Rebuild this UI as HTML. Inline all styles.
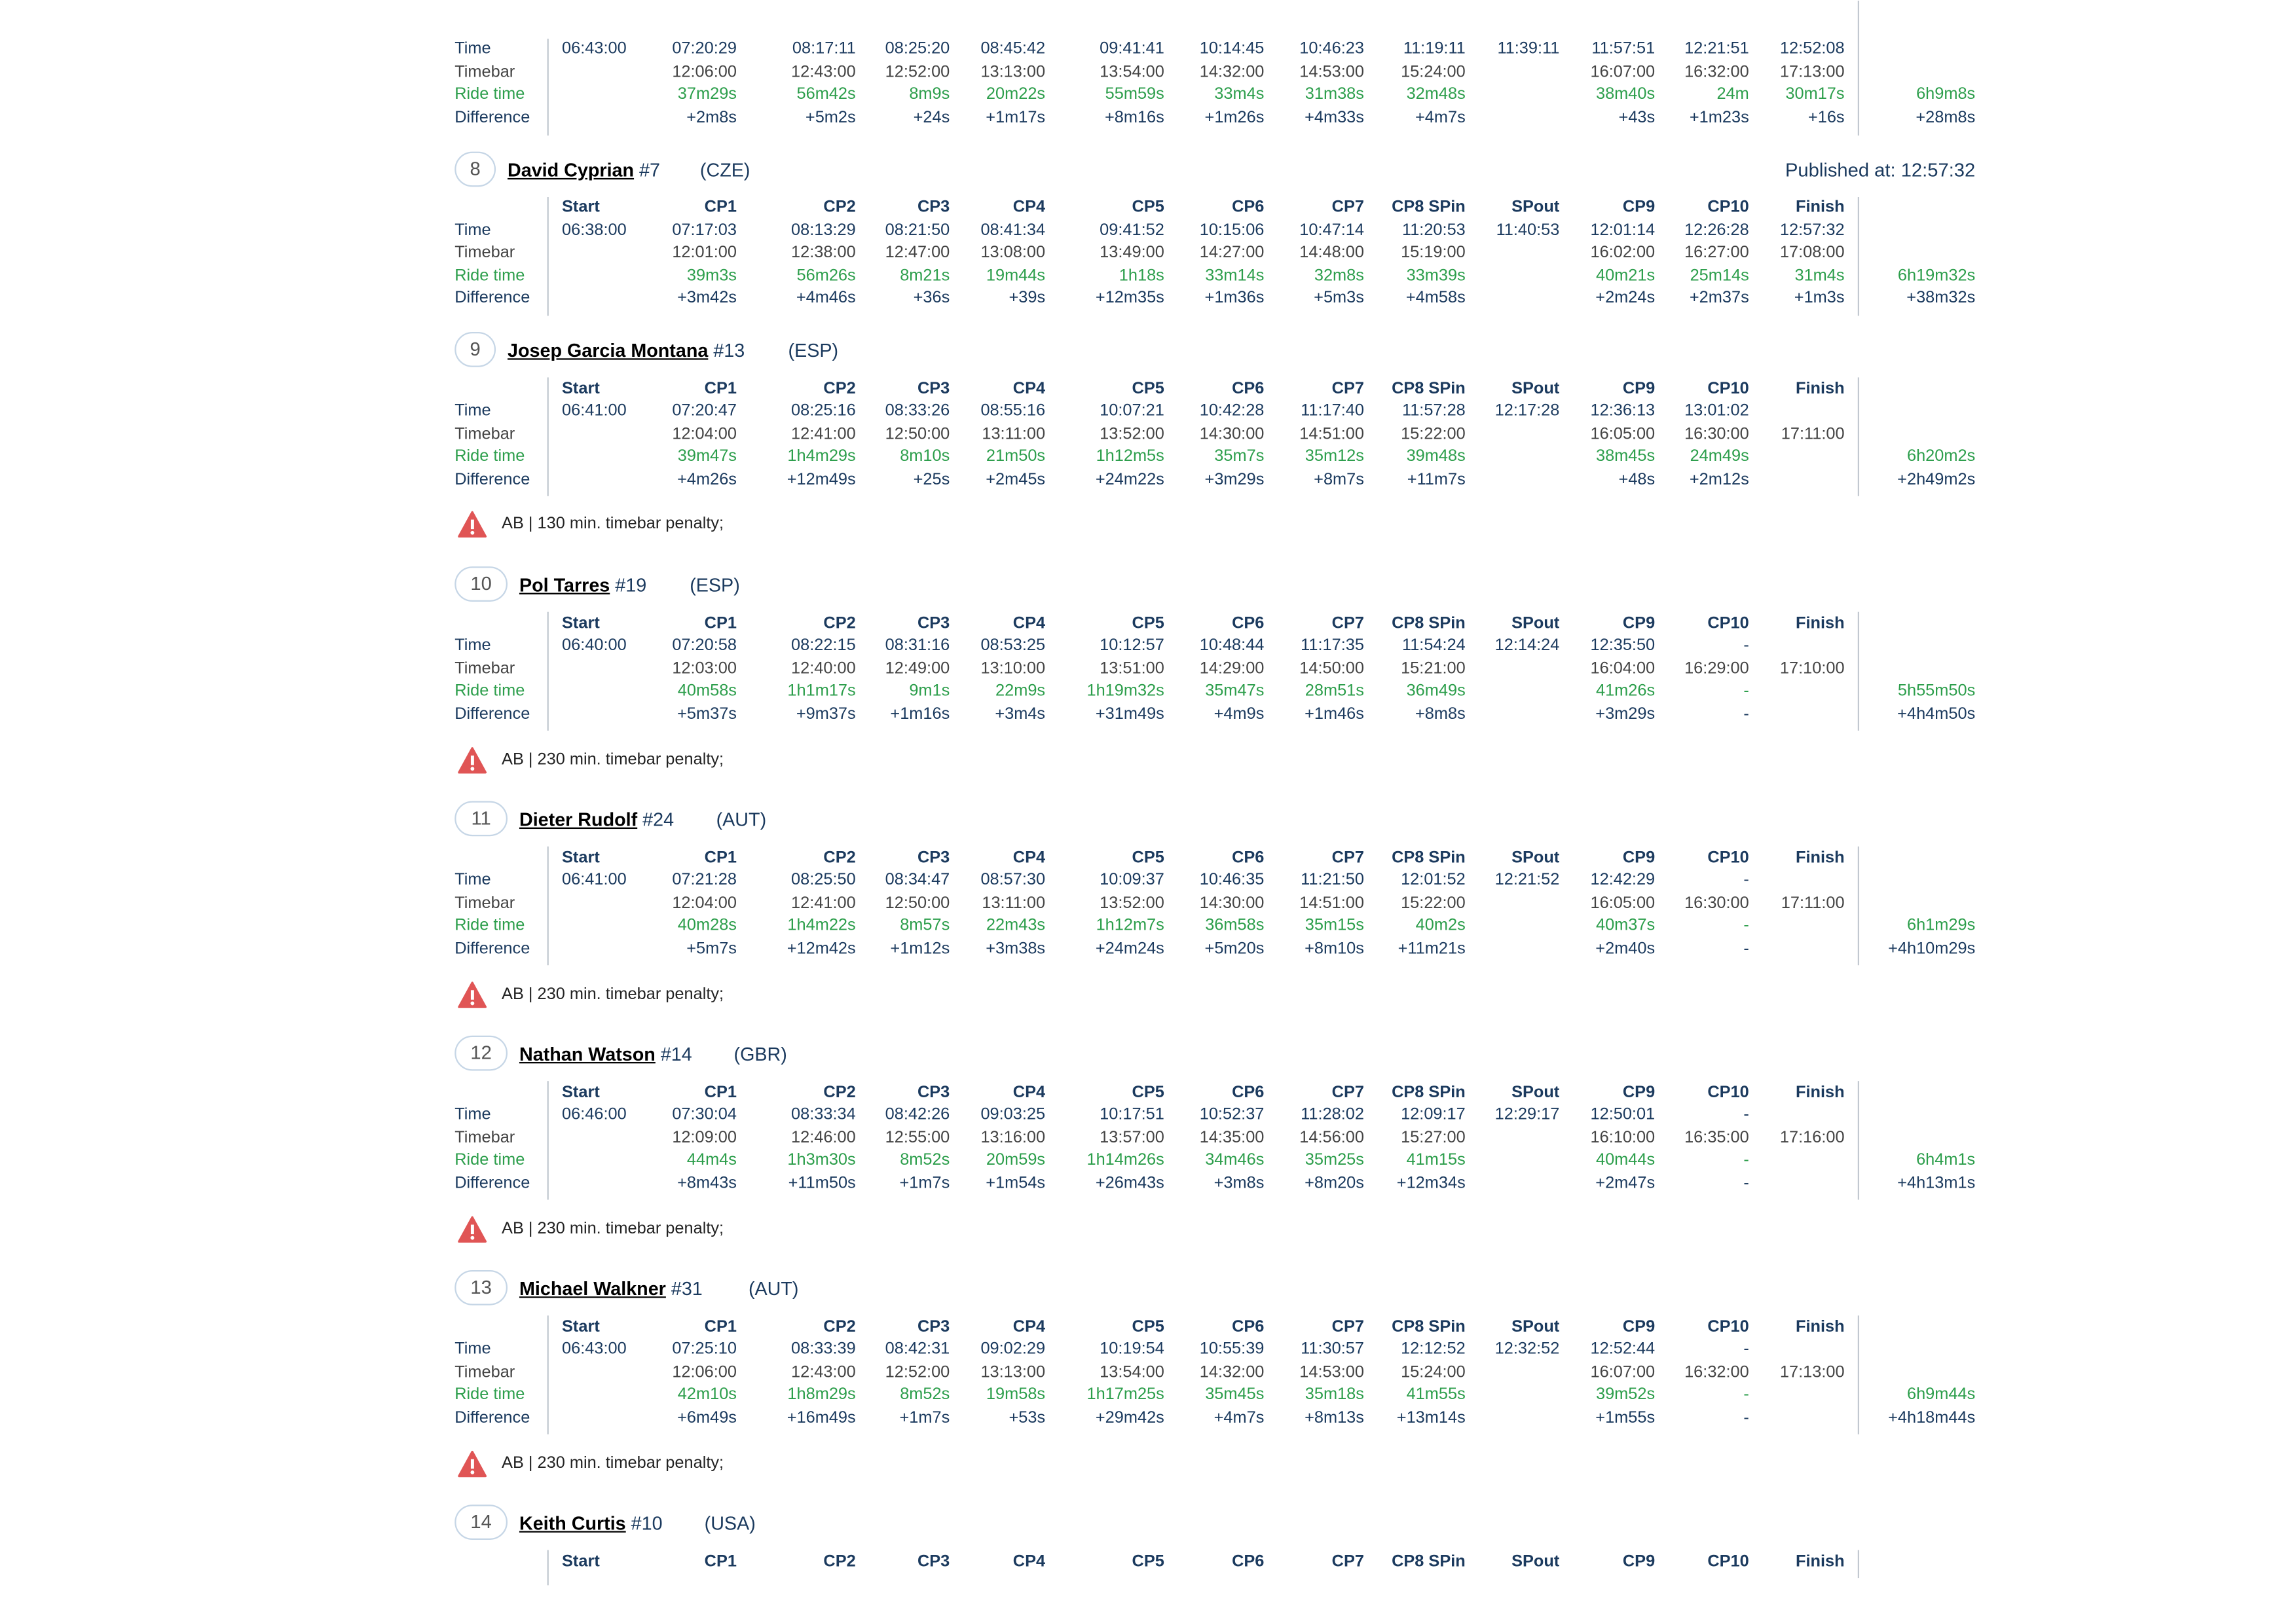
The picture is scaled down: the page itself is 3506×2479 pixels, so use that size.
<!DOCTYPE html>
<html><head><meta charset="utf-8"><style>
html,body{margin:0;padding:0;background:#fff;}
body{width:3506px;height:2479px;overflow:hidden;position:relative;}
#w{position:absolute;left:1px;top:1px;width:1560px;height:1103px;transform:scale(2.2435,2.239);transform-origin:0 0;font-family:"Liberation Sans",Arial,sans-serif;font-size:11.3px;color:#1b3a5e;}
.r{position:absolute;left:0;width:1560px;height:16px;line-height:16px;}
.r span{position:absolute;white-space:nowrap;top:0;}
.l{left:309px}.c0{left:382px}
.c1{right:1059px}.c2{right:978px}.c3{right:914px}.c4{right:849px}.c5{right:768px}.c6{right:700px}
.c7{right:632px}.c8{right:563px}.c9{right:499px}.c10{right:434px}.c11{right:370px}.c12{right:305px}.ct{right:216px}
.h{font-weight:bold;color:#1b3a5e}
.tb{color:#444}
.g{color:#2c9e4b}
.vl{position:absolute;width:1px;background:#c2c8d0;}
.t{position:absolute;left:0;width:1560px;height:28px;line-height:28px;font-size:12.8px;}
.t span{position:absolute;white-space:nowrap;}
.badge{position:absolute;height:24px;top:1px;border:1.3px solid #c6d6e6;border-radius:13px;box-sizing:border-box;text-align:center;line-height:22px;color:#555;font-size:13px;}
.nm{font-weight:bold;color:#000;text-decoration:underline;}
.pen{position:absolute;left:309px;height:20px;line-height:20px;color:#222;font-size:11.3px;}
.pen svg{position:absolute;left:2px;top:1px;}
.pen b{font-weight:normal;position:absolute;left:32px;white-space:nowrap;}
</style></head><body><div id="w">

<!-- block 7 (partial) -->
<div class="vl" style="left:372px;top:26px;height:66px"></div>
<div class="vl" style="left:1264px;top:0px;height:92px"></div>
<div class="r" style="top:25px"><span class="l">Time</span><span class="c0">06:43:00</span><span class="c1">07:20:29</span><span class="c2">08:17:11</span><span class="c3">08:25:20</span><span class="c4">08:45:42</span><span class="c5">09:41:41</span><span class="c6">10:14:45</span><span class="c7">10:46:23</span><span class="c8">11:19:11</span><span class="c9">11:39:11</span><span class="c10">11:57:51</span><span class="c11">12:21:51</span><span class="c12">12:52:08</span></div>
<div class="r tb" style="top:41px"><span class="l">Timebar</span><span class="c1">12:06:00</span><span class="c2">12:43:00</span><span class="c3">12:52:00</span><span class="c4">13:13:00</span><span class="c5">13:54:00</span><span class="c6">14:32:00</span><span class="c7">14:53:00</span><span class="c8">15:24:00</span><span class="c10">16:07:00</span><span class="c11">16:32:00</span><span class="c12">17:13:00</span></div>
<div class="r g" style="top:56px"><span class="l">Ride time</span><span class="c1">37m29s</span><span class="c2">56m42s</span><span class="c3">8m9s</span><span class="c4">20m22s</span><span class="c5">55m59s</span><span class="c6">33m4s</span><span class="c7">31m38s</span><span class="c8">32m48s</span><span class="c10">38m40s</span><span class="c11">24m</span><span class="c12">30m17s</span><span class="ct">6h9m8s</span></div>
<div class="r" style="top:72px"><span class="l">Difference</span><span class="c1">+2m8s</span><span class="c2">+5m2s</span><span class="c3">+24s</span><span class="c4">+1m17s</span><span class="c5">+8m16s</span><span class="c6">+1m26s</span><span class="c7">+4m33s</span><span class="c8">+4m7s</span><span class="c10">+43s</span><span class="c11">+1m23s</span><span class="c12">+16s</span><span class="ct">+28m8s</span></div>

<!-- block 8 -->
<div class="t" style="top:102px"><div class="badge" style="left:309px;width:28px">8</div><span style="left:345px"><span class="nm" style="position:static">David Cyprian</span> #7</span><span style="left:476px">(CZE)</span><span style="right:216px;font-size:13px">Published at: 12:57:32</span></div>
<div class="vl" style="left:372px;top:134px;height:81px"></div>
<div class="vl" style="left:1264px;top:134px;height:81px"></div>
<div class="r h" style="top:133px"><span class="c0">Start</span><span class="c1">CP1</span><span class="c2">CP2</span><span class="c3">CP3</span><span class="c4">CP4</span><span class="c5">CP5</span><span class="c6">CP6</span><span class="c7">CP7</span><span class="c8">CP8 SPin</span><span class="c9">SPout</span><span class="c10">CP9</span><span class="c11">CP10</span><span class="c12">Finish</span></div>
<div class="r" style="top:149px"><span class="l">Time</span><span class="c0">06:38:00</span><span class="c1">07:17:03</span><span class="c2">08:13:29</span><span class="c3">08:21:50</span><span class="c4">08:41:34</span><span class="c5">09:41:52</span><span class="c6">10:15:06</span><span class="c7">10:47:14</span><span class="c8">11:20:53</span><span class="c9">11:40:53</span><span class="c10">12:01:14</span><span class="c11">12:26:28</span><span class="c12">12:57:32</span></div>
<div class="r tb" style="top:164px"><span class="l">Timebar</span><span class="c1">12:01:00</span><span class="c2">12:38:00</span><span class="c3">12:47:00</span><span class="c4">13:08:00</span><span class="c5">13:49:00</span><span class="c6">14:27:00</span><span class="c7">14:48:00</span><span class="c8">15:19:00</span><span class="c10">16:02:00</span><span class="c11">16:27:00</span><span class="c12">17:08:00</span></div>
<div class="r g" style="top:180px"><span class="l">Ride time</span><span class="c1">39m3s</span><span class="c2">56m26s</span><span class="c3">8m21s</span><span class="c4">19m44s</span><span class="c5">1h18s</span><span class="c6">33m14s</span><span class="c7">32m8s</span><span class="c8">33m39s</span><span class="c10">40m21s</span><span class="c11">25m14s</span><span class="c12">31m4s</span><span class="ct">6h19m32s</span></div>
<div class="r" style="top:195px"><span class="l">Difference</span><span class="c1">+3m42s</span><span class="c2">+4m46s</span><span class="c3">+36s</span><span class="c4">+39s</span><span class="c5">+12m35s</span><span class="c6">+1m36s</span><span class="c7">+5m3s</span><span class="c8">+4m58s</span><span class="c10">+2m24s</span><span class="c11">+2m37s</span><span class="c12">+1m3s</span><span class="ct">+38m32s</span></div>

<!-- block 9 -->
<div class="t" style="top:225px"><div class="badge" style="left:309px;width:28px">9</div><span style="left:345px"><span class="nm" style="position:static">Josep Garcia Montana</span> #13</span><span style="left:536px">(ESP)</span></div>
<div class="vl" style="left:372px;top:257px;height:81px"></div>
<div class="vl" style="left:1264px;top:257px;height:81px"></div>
<div class="r h" style="top:257px"><span class="c0">Start</span><span class="c1">CP1</span><span class="c2">CP2</span><span class="c3">CP3</span><span class="c4">CP4</span><span class="c5">CP5</span><span class="c6">CP6</span><span class="c7">CP7</span><span class="c8">CP8 SPin</span><span class="c9">SPout</span><span class="c10">CP9</span><span class="c11">CP10</span><span class="c12">Finish</span></div>
<div class="r" style="top:272px"><span class="l">Time</span><span class="c0">06:41:00</span><span class="c1">07:20:47</span><span class="c2">08:25:16</span><span class="c3">08:33:26</span><span class="c4">08:55:16</span><span class="c5">10:07:21</span><span class="c6">10:42:28</span><span class="c7">11:17:40</span><span class="c8">11:57:28</span><span class="c9">12:17:28</span><span class="c10">12:36:13</span><span class="c11">13:01:02</span></div>
<div class="r tb" style="top:288px"><span class="l">Timebar</span><span class="c1">12:04:00</span><span class="c2">12:41:00</span><span class="c3">12:50:00</span><span class="c4">13:11:00</span><span class="c5">13:52:00</span><span class="c6">14:30:00</span><span class="c7">14:51:00</span><span class="c8">15:22:00</span><span class="c10">16:05:00</span><span class="c11">16:30:00</span><span class="c12">17:11:00</span></div>
<div class="r g" style="top:303px"><span class="l">Ride time</span><span class="c1">39m47s</span><span class="c2">1h4m29s</span><span class="c3">8m10s</span><span class="c4">21m50s</span><span class="c5">1h12m5s</span><span class="c6">35m7s</span><span class="c7">35m12s</span><span class="c8">39m48s</span><span class="c10">38m45s</span><span class="c11">24m49s</span><span class="ct">6h20m2s</span></div>
<div class="r" style="top:319px"><span class="l">Difference</span><span class="c1">+4m26s</span><span class="c2">+12m49s</span><span class="c3">+25s</span><span class="c4">+2m45s</span><span class="c5">+24m22s</span><span class="c6">+3m29s</span><span class="c7">+8m7s</span><span class="c8">+11m7s</span><span class="c10">+48s</span><span class="c11">+2m12s</span><span class="ct">+2h49m2s</span></div>
<div class="pen" style="top:347px"><svg width="20" height="19" viewBox="0 0 20 19"><path d="M10 1 L19 17.5 L1 17.5 Z" fill="#e05555" stroke="#e05555" stroke-width="1.5" stroke-linejoin="round"/><rect x="9" y="6" width="2.2" height="6.5" fill="#fff"/><circle cx="10.1" cy="15" r="1.3" fill="#fff"/></svg><b>AB | 130 min. timebar penalty;</b></div>

<!-- block 10 -->
<div class="t" style="top:385px"><div class="badge" style="left:309px;width:36px">10</div><span style="left:353px"><span class="nm" style="position:static">Pol Tarres</span> #19</span><span style="left:469px">(ESP)</span></div>
<div class="vl" style="left:372px;top:417px;height:81px"></div>
<div class="vl" style="left:1264px;top:417px;height:81px"></div>
<div class="r h" style="top:417px"><span class="c0">Start</span><span class="c1">CP1</span><span class="c2">CP2</span><span class="c3">CP3</span><span class="c4">CP4</span><span class="c5">CP5</span><span class="c6">CP6</span><span class="c7">CP7</span><span class="c8">CP8 SPin</span><span class="c9">SPout</span><span class="c10">CP9</span><span class="c11">CP10</span><span class="c12">Finish</span></div>
<div class="r" style="top:432px"><span class="l">Time</span><span class="c0">06:40:00</span><span class="c1">07:20:58</span><span class="c2">08:22:15</span><span class="c3">08:31:16</span><span class="c4">08:53:25</span><span class="c5">10:12:57</span><span class="c6">10:48:44</span><span class="c7">11:17:35</span><span class="c8">11:54:24</span><span class="c9">12:14:24</span><span class="c10">12:35:50</span><span class="c11">-</span></div>
<div class="r tb" style="top:448px"><span class="l">Timebar</span><span class="c1">12:03:00</span><span class="c2">12:40:00</span><span class="c3">12:49:00</span><span class="c4">13:10:00</span><span class="c5">13:51:00</span><span class="c6">14:29:00</span><span class="c7">14:50:00</span><span class="c8">15:21:00</span><span class="c10">16:04:00</span><span class="c11">16:29:00</span><span class="c12">17:10:00</span></div>
<div class="r g" style="top:463px"><span class="l">Ride time</span><span class="c1">40m58s</span><span class="c2">1h1m17s</span><span class="c3">9m1s</span><span class="c4">22m9s</span><span class="c5">1h19m32s</span><span class="c6">35m47s</span><span class="c7">28m51s</span><span class="c8">36m49s</span><span class="c10">41m26s</span><span class="c11">-</span><span class="ct">5h55m50s</span></div>
<div class="r" style="top:479px"><span class="l">Difference</span><span class="c1">+5m37s</span><span class="c2">+9m37s</span><span class="c3">+1m16s</span><span class="c4">+3m4s</span><span class="c5">+31m49s</span><span class="c6">+4m9s</span><span class="c7">+1m46s</span><span class="c8">+8m8s</span><span class="c10">+3m29s</span><span class="c11">-</span><span class="ct">+4h4m50s</span></div>
<div class="pen" style="top:508px"><svg width="20" height="19" viewBox="0 0 20 19"><path d="M10 1 L19 17.5 L1 17.5 Z" fill="#e05555" stroke="#e05555" stroke-width="1.5" stroke-linejoin="round"/><rect x="9" y="6" width="2.2" height="6.5" fill="#fff"/><circle cx="10.1" cy="15" r="1.3" fill="#fff"/></svg><b>AB | 230 min. timebar penalty;</b></div>

<!-- block 11 -->
<div class="t" style="top:545px"><div class="badge" style="left:309px;width:36px">11</div><span style="left:353px"><span class="nm" style="position:static">Dieter Rudolf</span> #24</span><span style="left:487px">(AUT)</span></div>
<div class="vl" style="left:372px;top:577px;height:81px"></div>
<div class="vl" style="left:1264px;top:577px;height:81px"></div>
<div class="r h" style="top:577px"><span class="c0">Start</span><span class="c1">CP1</span><span class="c2">CP2</span><span class="c3">CP3</span><span class="c4">CP4</span><span class="c5">CP5</span><span class="c6">CP6</span><span class="c7">CP7</span><span class="c8">CP8 SPin</span><span class="c9">SPout</span><span class="c10">CP9</span><span class="c11">CP10</span><span class="c12">Finish</span></div>
<div class="r" style="top:592px"><span class="l">Time</span><span class="c0">06:41:00</span><span class="c1">07:21:28</span><span class="c2">08:25:50</span><span class="c3">08:34:47</span><span class="c4">08:57:30</span><span class="c5">10:09:37</span><span class="c6">10:46:35</span><span class="c7">11:21:50</span><span class="c8">12:01:52</span><span class="c9">12:21:52</span><span class="c10">12:42:29</span><span class="c11">-</span></div>
<div class="r tb" style="top:608px"><span class="l">Timebar</span><span class="c1">12:04:00</span><span class="c2">12:41:00</span><span class="c3">12:50:00</span><span class="c4">13:11:00</span><span class="c5">13:52:00</span><span class="c6">14:30:00</span><span class="c7">14:51:00</span><span class="c8">15:22:00</span><span class="c10">16:05:00</span><span class="c11">16:30:00</span><span class="c12">17:11:00</span></div>
<div class="r g" style="top:623px"><span class="l">Ride time</span><span class="c1">40m28s</span><span class="c2">1h4m22s</span><span class="c3">8m57s</span><span class="c4">22m43s</span><span class="c5">1h12m7s</span><span class="c6">36m58s</span><span class="c7">35m15s</span><span class="c8">40m2s</span><span class="c10">40m37s</span><span class="c11">-</span><span class="ct">6h1m29s</span></div>
<div class="r" style="top:639px"><span class="l">Difference</span><span class="c1">+5m7s</span><span class="c2">+12m42s</span><span class="c3">+1m12s</span><span class="c4">+3m38s</span><span class="c5">+24m24s</span><span class="c6">+5m20s</span><span class="c7">+8m10s</span><span class="c8">+11m21s</span><span class="c10">+2m40s</span><span class="c11">-</span><span class="ct">+4h10m29s</span></div>
<div class="pen" style="top:668px"><svg width="20" height="19" viewBox="0 0 20 19"><path d="M10 1 L19 17.5 L1 17.5 Z" fill="#e05555" stroke="#e05555" stroke-width="1.5" stroke-linejoin="round"/><rect x="9" y="6" width="2.2" height="6.5" fill="#fff"/><circle cx="10.1" cy="15" r="1.3" fill="#fff"/></svg><b>AB | 230 min. timebar penalty;</b></div>

<!-- block 12 -->
<div class="t" style="top:705px"><div class="badge" style="left:309px;width:36px">12</div><span style="left:353px"><span class="nm" style="position:static">Nathan Watson</span> #14</span><span style="left:499px">(GBR)</span></div>
<div class="vl" style="left:372px;top:737px;height:81px"></div>
<div class="vl" style="left:1264px;top:737px;height:81px"></div>
<div class="r h" style="top:737px"><span class="c0">Start</span><span class="c1">CP1</span><span class="c2">CP2</span><span class="c3">CP3</span><span class="c4">CP4</span><span class="c5">CP5</span><span class="c6">CP6</span><span class="c7">CP7</span><span class="c8">CP8 SPin</span><span class="c9">SPout</span><span class="c10">CP9</span><span class="c11">CP10</span><span class="c12">Finish</span></div>
<div class="r" style="top:752px"><span class="l">Time</span><span class="c0">06:46:00</span><span class="c1">07:30:04</span><span class="c2">08:33:34</span><span class="c3">08:42:26</span><span class="c4">09:03:25</span><span class="c5">10:17:51</span><span class="c6">10:52:37</span><span class="c7">11:28:02</span><span class="c8">12:09:17</span><span class="c9">12:29:17</span><span class="c10">12:50:01</span><span class="c11">-</span></div>
<div class="r tb" style="top:768px"><span class="l">Timebar</span><span class="c1">12:09:00</span><span class="c2">12:46:00</span><span class="c3">12:55:00</span><span class="c4">13:16:00</span><span class="c5">13:57:00</span><span class="c6">14:35:00</span><span class="c7">14:56:00</span><span class="c8">15:27:00</span><span class="c10">16:10:00</span><span class="c11">16:35:00</span><span class="c12">17:16:00</span></div>
<div class="r g" style="top:783px"><span class="l">Ride time</span><span class="c1">44m4s</span><span class="c2">1h3m30s</span><span class="c3">8m52s</span><span class="c4">20m59s</span><span class="c5">1h14m26s</span><span class="c6">34m46s</span><span class="c7">35m25s</span><span class="c8">41m15s</span><span class="c10">40m44s</span><span class="c11">-</span><span class="ct">6h4m1s</span></div>
<div class="r" style="top:799px"><span class="l">Difference</span><span class="c1">+8m43s</span><span class="c2">+11m50s</span><span class="c3">+1m7s</span><span class="c4">+1m54s</span><span class="c5">+26m43s</span><span class="c6">+3m8s</span><span class="c7">+8m20s</span><span class="c8">+12m34s</span><span class="c10">+2m47s</span><span class="c11">-</span><span class="ct">+4h13m1s</span></div>
<div class="pen" style="top:828px"><svg width="20" height="19" viewBox="0 0 20 19"><path d="M10 1 L19 17.5 L1 17.5 Z" fill="#e05555" stroke="#e05555" stroke-width="1.5" stroke-linejoin="round"/><rect x="9" y="6" width="2.2" height="6.5" fill="#fff"/><circle cx="10.1" cy="15" r="1.3" fill="#fff"/></svg><b>AB | 230 min. timebar penalty;</b></div>

<!-- block 13 -->
<div class="t" style="top:865px"><div class="badge" style="left:309px;width:36px">13</div><span style="left:353px"><span class="nm" style="position:static">Michael Walkner</span> #31</span><span style="left:509px">(AUT)</span></div>
<div class="vl" style="left:372px;top:897px;height:81px"></div>
<div class="vl" style="left:1264px;top:897px;height:81px"></div>
<div class="r h" style="top:897px"><span class="c0">Start</span><span class="c1">CP1</span><span class="c2">CP2</span><span class="c3">CP3</span><span class="c4">CP4</span><span class="c5">CP5</span><span class="c6">CP6</span><span class="c7">CP7</span><span class="c8">CP8 SPin</span><span class="c9">SPout</span><span class="c10">CP9</span><span class="c11">CP10</span><span class="c12">Finish</span></div>
<div class="r" style="top:912px"><span class="l">Time</span><span class="c0">06:43:00</span><span class="c1">07:25:10</span><span class="c2">08:33:39</span><span class="c3">08:42:31</span><span class="c4">09:02:29</span><span class="c5">10:19:54</span><span class="c6">10:55:39</span><span class="c7">11:30:57</span><span class="c8">12:12:52</span><span class="c9">12:32:52</span><span class="c10">12:52:44</span><span class="c11">-</span></div>
<div class="r tb" style="top:928px"><span class="l">Timebar</span><span class="c1">12:06:00</span><span class="c2">12:43:00</span><span class="c3">12:52:00</span><span class="c4">13:13:00</span><span class="c5">13:54:00</span><span class="c6">14:32:00</span><span class="c7">14:53:00</span><span class="c8">15:24:00</span><span class="c10">16:07:00</span><span class="c11">16:32:00</span><span class="c12">17:13:00</span></div>
<div class="r g" style="top:943px"><span class="l">Ride time</span><span class="c1">42m10s</span><span class="c2">1h8m29s</span><span class="c3">8m52s</span><span class="c4">19m58s</span><span class="c5">1h17m25s</span><span class="c6">35m45s</span><span class="c7">35m18s</span><span class="c8">41m55s</span><span class="c10">39m52s</span><span class="c11">-</span><span class="ct">6h9m44s</span></div>
<div class="r" style="top:959px"><span class="l">Difference</span><span class="c1">+6m49s</span><span class="c2">+16m49s</span><span class="c3">+1m7s</span><span class="c4">+53s</span><span class="c5">+29m42s</span><span class="c6">+4m7s</span><span class="c7">+8m13s</span><span class="c8">+13m14s</span><span class="c10">+1m55s</span><span class="c11">-</span><span class="ct">+4h18m44s</span></div>
<div class="pen" style="top:988px"><svg width="20" height="19" viewBox="0 0 20 19"><path d="M10 1 L19 17.5 L1 17.5 Z" fill="#e05555" stroke="#e05555" stroke-width="1.5" stroke-linejoin="round"/><rect x="9" y="6" width="2.2" height="6.5" fill="#fff"/><circle cx="10.1" cy="15" r="1.3" fill="#fff"/></svg><b>AB | 230 min. timebar penalty;</b></div>

<!-- block 14 -->
<div class="t" style="top:1025px"><div class="badge" style="left:309px;width:36px">14</div><span style="left:353px"><span class="nm" style="position:static">Keith Curtis</span> #10</span><span style="left:479px">(USA)</span></div>
<div class="vl" style="left:372px;top:1057px;height:24px"></div>
<div class="vl" style="left:1264px;top:1057px;height:19px"></div>
<div class="r h" style="top:1057px"><span class="c0">Start</span><span class="c1">CP1</span><span class="c2">CP2</span><span class="c3">CP3</span><span class="c4">CP4</span><span class="c5">CP5</span><span class="c6">CP6</span><span class="c7">CP7</span><span class="c8">CP8 SPin</span><span class="c9">SPout</span><span class="c10">CP9</span><span class="c11">CP10</span><span class="c12">Finish</span></div>

</div></body></html>
